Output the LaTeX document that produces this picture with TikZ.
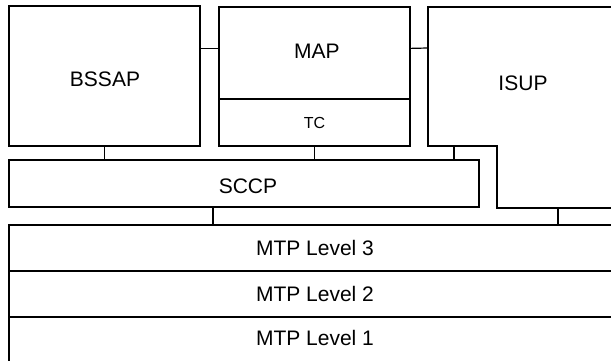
\documentclass[tikz,border=0pt]{standalone}
\usepackage{fontspec}
\setmainfont{Liberation Sans}
\usetikzlibrary{calc}
\begin{document}
\begin{tikzpicture}[x=1pt, y=-1pt,
  line width=1.2pt,
  layer/.style={draw=black, rectangle, inner sep=0pt, outer sep=0pt,
    anchor=north west, font=\fontsize{21}{24}\selectfont},
  small/.style={font=\fontsize{16}{19}\selectfont},
  link/.style={draw=black, line width=1.2pt}]
  % page frame
  \useasboundingbox (0,0) rectangle (611,361);
  \clip (0,0) rectangle (611,361);

  % upper protocol boxes
  \node[layer, minimum width=191pt, minimum height=140pt] (bssap) at (9,6) {};
  \node at (105,79) [font=\fontsize{21}{24}\selectfont] (bssapT) {BSSAP};
  \node[layer, minimum width=191pt, minimum height=92pt] (map) at (219,7) {};
  \node at (317,51) [font=\fontsize{21}{24}\selectfont] (mapT) {MAP};
  \node[layer, small, minimum width=191pt, minimum height=47pt] (tc) at (219,99) {TC};

  % ISUP outline, running off the right edge
  \draw (620,7) -- (428,7) -- (428,146) -- (497,146) -- (497,208) -- (620,208);
  \node at (523,83) [font=\fontsize{21}{24}\selectfont] (isup) {ISUP};
  \coordinate (isupW)  at (428,48);
  \coordinate (isupS)  at (454,146);
  \coordinate (isupS2) at (558,208);

  % SCCP
  \node[layer, minimum width=470pt, minimum height=47pt] (sccp) at (9,160) {};
  \node at (248,186) [font=\fontsize{21}{24}\selectfont] (sccpT) {SCCP};
  \coordinate (sccpS) at (213,207);

  % MTP levels
  \node[layer, minimum width=612pt, minimum height=46pt] (mtp3) at (9,225) {MTP Level 3};
  \node[layer, minimum width=612pt, minimum height=46pt] (mtp2) at (9,271) {MTP Level 2};
  \node[layer, minimum width=612pt, minimum height=46pt] (mtp1) at (9,317) {};
  \node at (315,338) [font=\fontsize{21}{24}\selectfont] (mtp1T) {MTP Level 1};

  % interfaces between layers
  \coordinate (mapW) at ($(map.north west)!0.45!(map.south west)$);
  \coordinate (mapE) at ($(map.north east)!0.45!(map.south east)$);
  \draw[link] (mapW) -- (mapW -| bssap.east);
  \draw[link] (mapE) -- (isupW);
  \draw[link] (bssap.south) -- (bssap.south |- sccp.north);
  \draw[link] (tc.south) -- (tc.south |- sccp.north);
  \draw[link] (isupS) -- (isupS |- sccp.north);
  \draw[link] (sccpS) -- (sccpS |- mtp3.north);
  \draw[link] (isupS2) -- (isupS2 |- mtp3.north);
\end{tikzpicture}
\end{document}
